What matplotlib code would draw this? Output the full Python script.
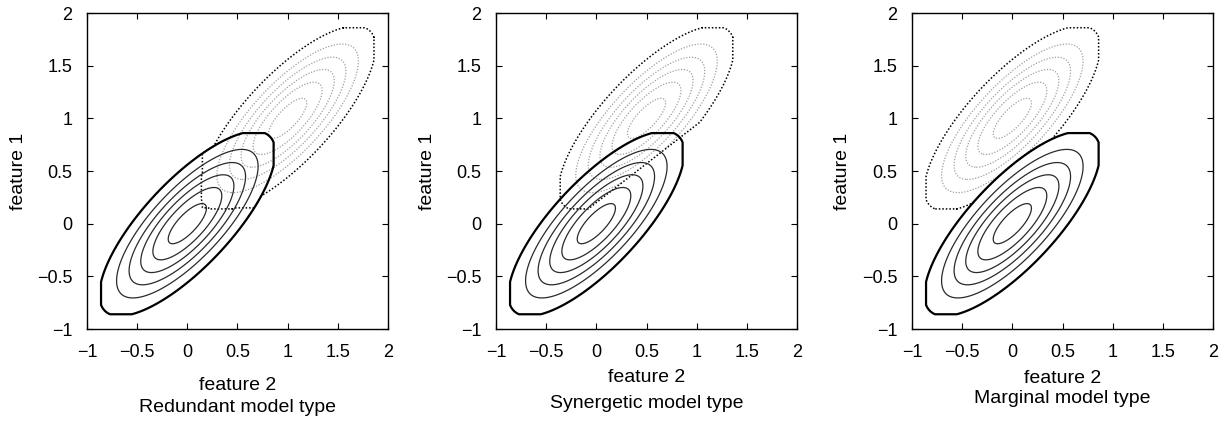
import numpy as np
import matplotlib
matplotlib.use('Agg')
import matplotlib.pyplot as plt

plt.rcParams['font.family'] = ['Liberation Sans', 'DejaVu Sans']

# Panel names (model types)
panel_titles = ['Redundant model type', 'Synergetic model type', 'Marginal model type']

# Gaussian parameters (x = feature 2, y = feature 1)
solid_center = (0.0, 0.0)
dotted_center_x = [1.0, 0.5, 0.0]
dotted_center_y = [1.0, 1.0, 1.0]
sigma = 0.5
rho = 0.77
half_box = 0.86   # densities are cut off outside +-0.86 around the centre

# contour levels as fraction of the peak density; first one is the outer (thick) line
levels = [0.215, 0.37, 0.51, 0.65, 0.79, 0.93]

# region rules for the dotted class
redundant_corner = (0.15, 0.15)   # feature 2 > 0.15 and feature 1 > 0.15
synergetic_line = (0.2, 0.74)     # feature 1 > 0.2 + 0.74 * feature 2

ticks = [-1, -0.5, 0, 0.5, 1, 1.5, 2]
tick_labels = ['\u22121', '\u22120.5', '0', '0.5', '1', '1.5', '2']


def gauss(X, Y, cx, cy):
    dx = X - cx
    dy = Y - cy
    q = (dx**2 - 2 * rho * dx * dy + dy**2) / (sigma**2 * (1 - rho**2))
    return np.exp(-0.5 * q)


def support(X, Y, cx, cy, f):
    # > 0 inside the outer (truncated) region, < 0 outside
    return np.minimum.reduce([f - levels[0], half_box - np.abs(X - cx),
                              half_box - np.abs(Y - cy)])


g = np.linspace(-1, 2, 751)
X, Y = np.meshgrid(g, g)

fig = plt.figure(figsize=(12.3, 4.21), dpi=100)

lefts = [87, 496, 912]
xlabel_y = [-0.18, -0.155, -0.158]
sub_y = [-0.25, -0.237, -0.22]
ylabel_x = [-0.229, -0.226, -0.23]

for i in range(3):
    ax = fig.add_axes([lefts[i] / 1230, (421 - 329) / 421, 301 / 1230, 316 / 421])

    f1 = gauss(X, Y, *solid_center)
    f2 = gauss(X, Y, dotted_center_x[i], dotted_center_y[i])
    s1 = support(X, Y, *solid_center, f1)
    s2 = support(X, Y, dotted_center_x[i], dotted_center_y[i], f2)

    if i == 0:
        rule = np.minimum.reduce([s1, X - redundant_corner[0], Y - redundant_corner[1]])
        h = np.maximum(s2, rule)
    elif i == 1:
        h = np.minimum(s2, Y - (synergetic_line[0] + synergetic_line[1] * X))
    else:
        h = np.minimum(s2, -s1)

    # dotted class: grey inner rings and black dotted outline
    f2m = np.ma.masked_where(h < 0, f2)
    ax.contour(X, Y, f2m, levels=levels[1:], colors='#a0a0a0',
               linewidths=0.9, linestyles=[(0, (1, 1.3))])
    ax.contour(X, Y, h, levels=[0], colors='black',
               linewidths=1.1, linestyles=[(0, (1, 1.3))])

    # solid class
    ax.contour(X, Y, f1, levels=levels[1:], colors='#2a2a2a', linewidths=0.9)
    ax.contour(X, Y, s1, levels=[0], colors='black', linewidths=1.6)

    ax.set_xlim(-1, 2)
    ax.set_ylim(-1, 2)
    ax.set_xticks(ticks)
    ax.set_xticklabels(tick_labels)
    ax.set_yticks(ticks)
    ax.set_yticklabels(tick_labels)
    ax.tick_params(direction='in', length=4, width=0.8, top=True, right=True,
                   labelsize=13)
    ax.tick_params(axis='x', pad=11)
    ax.tick_params(axis='y', pad=10.5)
    for s in ax.spines.values():
        s.set_linewidth(1.0)

    ax.set_xlabel('feature 2', fontsize=14, va='center')
    ax.xaxis.set_label_coords(0.5, xlabel_y[i])
    ax.set_ylabel('feature 1', fontsize=14, va='center')
    ax.yaxis.set_label_coords(ylabel_x[i], 0.5)
    ax.text(0.5, sub_y[i], panel_titles[i], transform=ax.transAxes,
            ha='center', va='center', fontsize=14)

fig.savefig('out.png', dpi=100)
